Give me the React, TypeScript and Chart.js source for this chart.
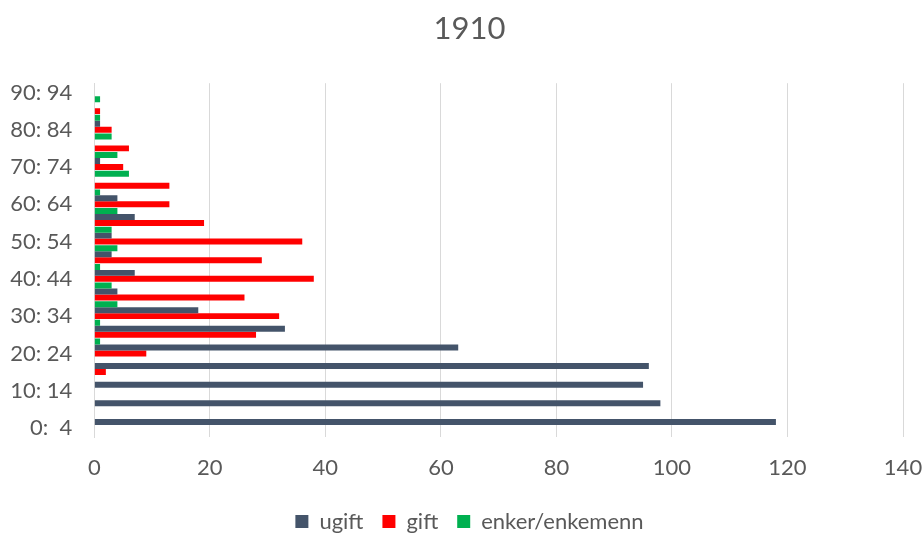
import { useEffect, useRef } from "react";
import { Chart, registerables } from "chart.js";

Chart.register(...registerables);

// ---- data (index 0 = age group 0-4, bottom of the chart) ----
const chartTitle = "1910";
const ageGroups = [
  "0:  4", "5:  9", "10: 14", "15: 19", "20: 24", "25: 29", "30: 34", "35: 39",
  "40: 44", "45: 49", "50: 54", "55: 59", "60: 64", "65: 69", "70: 74", "75: 79",
  "80: 84", "85: 89", "90: 94",
];
const ugift = [118, 98, 95, 96, 63, 33, 18, 4, 7, 3, 3, 7, 4, 0, 1, 0, 1, 0, 0];
const gift = [0, 0, 0, 2, 9, 28, 32, 26, 38, 29, 36, 19, 13, 13, 5, 6, 3, 1, 0];
const enker = [0, 0, 0, 0, 1, 1, 4, 3, 1, 4, 3, 4, 1, 6, 4, 3, 1, 1, 0];
const seriesNames = ["ugift", "gift", "enker/enkemenn"];
const xMin = 0;
const xMax = 140;
const xStep = 20;

// ---- styling ----
const TEXT = "#595959";
const GRID = "#D9D9D9";
const FONT = "Lato";
const COLORS = ["#44546A", "#FF0000", "#00B050"];
// group of bars sits one bar-width above the category centre (as in the original)
const SHIFT = 0.322;

// let the y-axis labels use the space to the left of the axis box (avoid clipping)
const unclipYLabels = {
  id: "unclipYLabels",
  afterLayout(chart: any) {
    const y = chart.scales.y;
    if (y) y.left = 0;
  },
};

export default function App() {
  const ref = useRef<HTMLCanvasElement | null>(null);

  useEffect(() => {
    if (!ref.current) return;
    const toPts = (arr: number[]) => arr.map((v, i) => ({ x: v, y: i }));
    const chart = new Chart(ref.current, {
      type: "bar",
      data: {
        datasets: [
          { label: seriesNames[0], data: toPts(ugift), backgroundColor: COLORS[0], order: 1 },
          { label: seriesNames[1], data: toPts(gift), backgroundColor: COLORS[1], order: 2 },
          { label: seriesNames[2], data: toPts(enker), backgroundColor: COLORS[2], order: 0 },
        ] as any,
      },
      plugins: [unclipYLabels],
      options: {
        indexAxis: "y",
        animation: false,
        responsive: false,
        categoryPercentage: 0.96,
        barPercentage: 1,
        layout: { padding: { left: 36, right: 20, top: 0, bottom: -9.5 } },
        scales: {
          x: {
            type: "linear",
            min: xMin,
            max: xMax,
            ticks: {
              stepSize: xStep,
              padding: 0,
              color: TEXT,
              font: { family: FONT, size: 22 },
            },
            grid: {
              color: GRID,
              lineWidth: 1,
              drawTicks: true,
              tickLength: 17.5,
              tickColor: "rgba(0,0,0,0)",
            },
            border: { display: false },
            afterFit: (s: any) => {
              s.height = 54.2;
            },
          },
          y: {
            type: "linear",
            stacked: false,
            offset: false,
            min: -0.5 - SHIFT,
            max: ageGroups.length - 0.5 - SHIFT,
            afterBuildTicks: (axis: any) => {
              axis.ticks = ageGroups
                .map((_, i) => i)
                .filter((i) => i % 2 === 0)
                .map((i) => ({ value: i - SHIFT }));
            },
            ticks: {
              autoSkip: false,
              padding: 22,
              color: TEXT,
              font: { family: FONT, size: 22 },
              callback: (v: any) => ageGroups[Math.round(Number(v) + SHIFT)],
            },
            grid: { display: false, drawTicks: false, offset: false },
            border: { display: true, color: GRID, width: 1 },
            afterFit: (s: any) => {
              s.width = 58.3;
            },
          },
        },
        plugins: {
          title: {
            display: true,
            text: chartTitle,
            color: TEXT,
            font: { family: FONT, size: 31, weight: "normal" },
            padding: { top: 10, bottom: 36 },
          },
          legend: {
            position: "bottom",
            labels: {
              boxWidth: 13,
              boxHeight: 13,
              padding: 19,
              color: TEXT,
              font: { family: FONT, size: 22 },
              sort: (a: any, b: any) => a.datasetIndex - b.datasetIndex,
            },
          },
          tooltip: { enabled: false },
        },
      } as any,
    });
    return () => chart.destroy();
  }, []);

  return (
    <div style={{ position: "fixed", left: 0, top: 0, width: 923, height: 533, background: "#fff" }}>
      <canvas ref={ref} width={923} height={533} style={{ display: "block" }} />
    </div>
  );
}
